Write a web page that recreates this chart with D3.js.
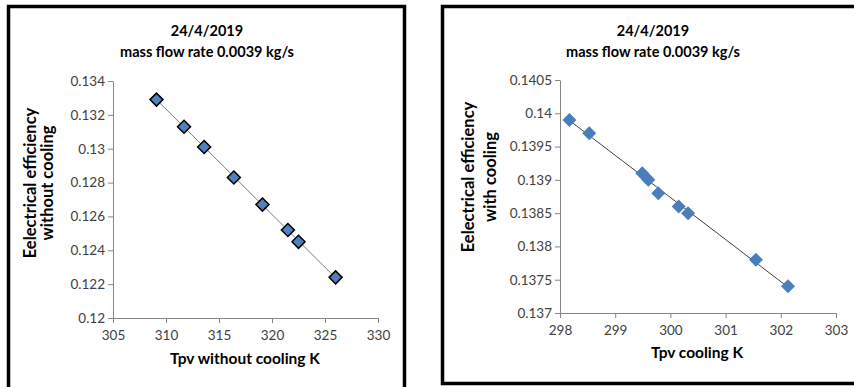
<!DOCTYPE html>
<html>
<head>
<meta charset="utf-8">
<script src="https://cdn.jsdelivr.net/npm/d3@7/dist/d3.min.js"></script>
<style>
  html, body { margin: 0; padding: 0; background: #fff; }
  svg { display: block; }
  text { font-family: Lato, "Open Sans", sans-serif; }
</style>
</head>
<body>
<svg id="chart" width="854" height="387"></svg>
<script>
// Panel 1: PV temperature and electrical efficiency without cooling
const tpvWithout = [309.1, 311.7, 313.6, 316.4, 319.1, 321.5, 322.5, 326.0];
const effWithout = [0.1329, 0.1313, 0.1301, 0.1283, 0.1267, 0.1252, 0.1245, 0.1224];
const xTicksWithout = [305, 310, 315, 320, 325, 330];
const yTicksWithout = [0.12, 0.122, 0.124, 0.126, 0.128, 0.13, 0.132, 0.134];

// Panel 2: PV temperature and electrical efficiency with cooling
const tpvWith = [298.17, 298.53, 299.49, 299.60, 299.78, 300.15, 300.32, 301.55, 302.13];
const effWith = [0.1399, 0.1397, 0.1391, 0.1390, 0.1388, 0.1386, 0.1385, 0.1378, 0.1374];
const xTicksWith = [298, 299, 300, 301, 302, 303];
const yTicksWith = [0.137, 0.1375, 0.138, 0.1385, 0.139, 0.1395, 0.14, 0.1405];

const titleLines = ["24/4/2019", "mass flow rate 0.0039 kg/s"];

const svg = d3.select("#chart");
const axisColor = "#868686";
const tickText = "#404040";

// Least-squares linear fit for the trendline
function linearFit(xs, ys) {
  const n = xs.length;
  const mx = d3.mean(xs), my = d3.mean(ys);
  let sxy = 0, sxx = 0;
  for (let i = 0; i < n; i++) {
    sxy += (xs[i] - mx) * (ys[i] - my);
    sxx += (xs[i] - mx) * (xs[i] - mx);
  }
  const slope = sxy / sxx;
  return x => my + slope * (x - mx);
}

function diamond(r) {
  return `M0,${-r}L${r},0L0,${r}L${-r},0Z`;
}

function drawPanel(cfg) {
  const g = svg.append("g");

  // frame
  g.append("path")
    .attr("d", cfg.frame)
    .attr("fill", "none")
    .attr("stroke", "#000")
    .attr("stroke-width", 3.5);

  // title
  g.append("text")
    .attr("x", cfg.titleX).attr("y", 36)
    .attr("text-anchor", "middle")
    .attr("font-size", 14.5).attr("font-weight", "bold").attr("fill", "#000")
    .text(titleLines[0]);
  g.append("text")
    .attr("x", cfg.titleX).attr("y", 57)
    .attr("text-anchor", "middle")
    .attr("font-size", 14.5).attr("font-weight", "bold").attr("fill", "#000")
    .text(titleLines[1]);

  const x = d3.scaleLinear().domain(cfg.xDomain).range(cfg.xRange);
  const y = d3.scaleLinear().domain(cfg.yDomain).range(cfg.yRange);

  // axes
  const xAxis = d3.axisBottom(x).tickValues(cfg.xTicks).tickSize(5).tickSizeOuter(0)
    .tickFormat(d3.format("d"));
  const yAxis = d3.axisLeft(y).tickValues(cfg.yTicks).tickSize(5).tickSizeOuter(0)
    .tickFormat(d => String(+d.toFixed(4)));

  const gx = g.append("g").attr("transform", `translate(0,${cfg.yRange[0]})`).call(xAxis);
  const gy = g.append("g").attr("transform", `translate(${cfg.xRange[0]},0)`).call(yAxis);
  [gx, gy].forEach(a => {
    a.select(".domain").attr("stroke", axisColor);
    a.selectAll(".tick line").attr("stroke", axisColor);
    a.selectAll(".tick text")
      .attr("fill", tickText)
      .attr("font-size", 13.5)
      .attr("font-family", "Lato, sans-serif");
  });
  gx.selectAll(".tick text").attr("dy", "1.05em");
  gy.selectAll(".tick text").attr("x", -8);

  // axis titles
  g.append("text")
    .attr("x", cfg.xTitleX).attr("y", cfg.xTitleY)
    .attr("text-anchor", "middle")
    .attr("font-size", 15.5).attr("font-weight", "bold").attr("fill", "#000")
    .text(cfg.xTitle);

  cfg.yTitle.forEach((line, i) => {
    g.append("text")
      .attr("transform", `translate(${cfg.yTitleX[i]},${cfg.yTitleY}) rotate(-90)`)
      .attr("text-anchor", "middle")
      .attr("font-size", 16.5).attr("font-weight", "bold").attr("fill", "#000")
      .text(line);
  });

  // trendline
  const fit = linearFit(cfg.xs, cfg.ys);
  const x0 = d3.min(cfg.xs), x1 = d3.max(cfg.xs);
  g.append("line")
    .attr("x1", x(x0)).attr("y1", y(fit(x0)))
    .attr("x2", x(x1)).attr("y2", y(fit(x1)))
    .attr("stroke", cfg.lineColor).attr("stroke-width", 1);

  // markers
  g.selectAll("path.pt")
    .data(cfg.xs.map((v, i) => [v, cfg.ys[i]]))
    .join("path")
    .attr("class", "pt")
    .attr("transform", d => `translate(${x(d[0])},${y(d[1])})`)
    .attr("d", diamond(cfg.markerR))
    .attr("fill", cfg.markerFill)
    .attr("stroke", cfg.markerStroke)
    .attr("stroke-width", cfg.markerStrokeW);
}

drawPanel({
  frame: "M8.5,387 L8.5,6.5 L404.5,6.5 L404.5,387",
  titleX: 207,
  xDomain: [305, 330], xRange: [113, 378],
  yDomain: [0.12, 0.134], yRange: [318, 81],
  xTicks: xTicksWithout, yTicks: yTicksWithout,
  xTitle: "Tpv without cooling K", xTitleX: 245, xTitleY: 364,
  yTitle: ["Eelectrical efficiency", "without cooling"], yTitleX: [36, 53], yTitleY: 183,
  xs: tpvWithout, ys: effWithout,
  lineColor: "#7f7f7f",
  markerR: 6.5, markerFill: "#4f81bd", markerStroke: "#000", markerStrokeW: 1.5
});

drawPanel({
  frame: "M856,6.5 L442.5,6.5 L442.5,383.5 L856,383.5",
  titleX: 653,
  xDomain: [298, 303], xRange: [560, 836],
  yDomain: [0.137, 0.1405], yRange: [313, 80],
  xTicks: xTicksWith, yTicks: yTicksWith,
  xTitle: "Tpv cooling K", xTitleX: 697, xTitleY: 358,
  yTitle: ["Eelectrical efficiency", "with cooling"], yTitleX: [474, 496], yTitleY: 177,
  xs: tpvWith, ys: effWith,
  lineColor: "#404040",
  markerR: 7, markerFill: "#4a7ebb", markerStroke: "none", markerStrokeW: 0
});
</script>
</body>
</html>
